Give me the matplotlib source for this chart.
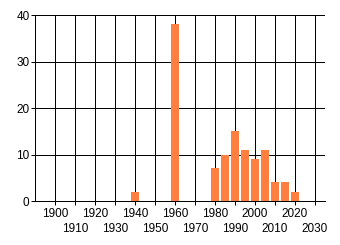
import numpy as np
import matplotlib
matplotlib.use('Agg')
import matplotlib.pyplot as plt

years = [1940, 1960, 1980, 1985, 1990, 1995, 2000, 2005, 2010, 2015, 2020]
counts = [2, 38, 7, 10, 15, 11, 9, 11, 4, 4, 2]

top_labels = [1900, 1920, 1940, 1960, 1980, 2000, 2020]
bottom_labels = [1910, 1930, 1950, 1970, 1990, 2010, 2030]
y_ticks = [0, 10, 20, 30, 40]

plt.rcParams['font.family'] = ['Liberation Sans', 'DejaVu Sans']
lw = 0.72  # 1 pixel

fig = plt.figure(figsize=(3.4, 2.45), dpi=100)
ax = fig.add_axes([35 / 340, 44 / 245, 290 / 340, 186 / 245])

ax.bar(years, counts, width=4, color='#ff7f40', zorder=3)

ax.set_xlim(1890, 2035)
ax.set_ylim(0, 40)

# grid lines
for x in top_labels + bottom_labels:
    ax.axvline(x, color='black', lw=lw, zorder=1)
for y in y_ticks[1:]:
    ax.axhline(y, color='black', lw=lw, zorder=1)

ax.set_xticks(top_labels)
ax.set_xticks(bottom_labels, minor=True)
ax.set_xticklabels([str(v) for v in top_labels], fontsize=8.5)
ax.set_xticklabels([str(v) for v in bottom_labels], minor=True, fontsize=8.5)
ax.tick_params(axis='x', which='major', length=3, width=lw, pad=2)
ax.tick_params(axis='x', which='minor', length=3, width=lw, pad=13)

ax.set_yticks(y_ticks)
ax.set_yticklabels([str(v) for v in y_ticks], fontsize=8.5)
ax.tick_params(axis='y', length=3, width=lw, pad=1)

for s in ['top', 'right']:
    ax.spines[s].set_visible(False)
for s in ['left', 'bottom']:
    ax.spines[s].set_linewidth(lw)
    ax.spines[s].set_zorder(4)

fig.savefig('out.png', dpi=100)
